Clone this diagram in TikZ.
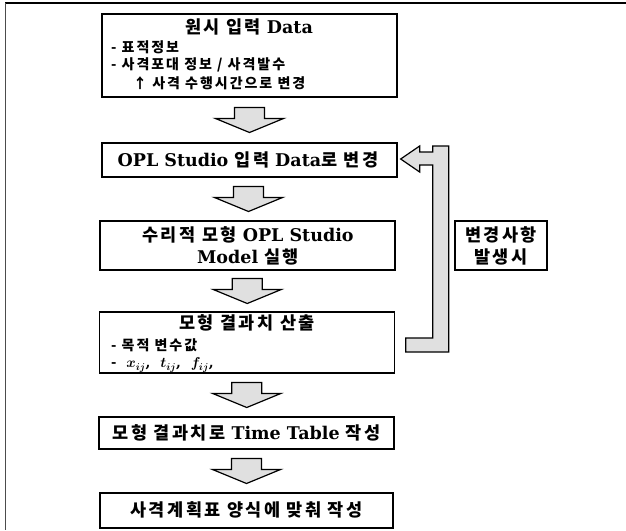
\documentclass[tikz,border=0pt]{standalone}
\usepackage{fontspec}
\setmainfont{DejaVu Serif}
\newfontfamily\kr{Noto Sans CJK KR}[LetterSpace=14]
\usetikzlibrary{calc}
\begin{document}
\begin{tikzpicture}[x=1pt,y=-1pt,
  box/.style={draw, line width=1.3pt, inner sep=0pt, minimum width=295pt},
  ttl/.style={font=\bfseries\fontsize{17.5}{20}\selectfont, inner sep=0pt, align=center},
  itm/.style={font=\bfseries\boldmath\fontsize{14}{16}\selectfont, anchor=west, inner sep=0pt},
  arrowblk/.style={draw, line width=1.2pt, fill=black!12, line join=miter},
  dnarrow/.pic={\draw[arrowblk] (-15,-12.5) -- (15,-12.5) -- (15,-1.5) -- (34,-1.5) -- (0,12.5) -- (-34,-1.5) -- (-15,-1.5) -- cycle;}
]
\useasboundingbox (0,0) rectangle (626,530);
% outer frame
\draw[line width=1.6pt] (5,3) -- (626,3);
\draw[line width=0.6pt, black!70] (5,3) -- (5,530);

% boxes
\node[box, minimum height=83pt] (b1) at (249.5,55.5) {};
\node[ttl] (t1) at (249,27) {{\kr 원시 입력} Data};
\node[itm] (i1) at (111,47) {{\kr - 표적정보}};
\node[itm] (i2) at (111,65) {{\kr - 사격포대 정보 / 사격발수}};
\node[itm] (i3) at (133,83) {{\kr ↑ 사격 수행시간으로 변경}};

\node[box, minimum height=34pt] (b2) at (249.5,160) {};
\node[ttl] (t2) at (248,160) {OPL Studio {\kr 입력} Data{\kr 로 변경}};

\node[box, minimum height=49pt] (b3) at (247.5,245.5) {};
\node[ttl] (t3a) at (248,235) {{\kr 수리적 모형} OPL Studio};
\node[ttl] (t3b) at (248,257) {Model {\kr 실행}};

\node[box, minimum height=61pt] (b4) at (247,342.5) {};
\node[ttl] (t4) at (247,323) {{\kr 모형 결과치 산출}};
\node[itm] (i4) at (111,345) {{\kr - 목적 변수값}};
\node[itm] (i5) at (111,365) {{\kr -} \ $x_{ij}$,\ \ $t_{ij}$,\ \ $f_{ij}$,};

\node[box, minimum height=32pt] (b5) at (246.5,433) {};
\node[ttl] (t5) at (246.5,433) {{\kr 모형 결과치로} Time Table {\kr 작성}};

\node[box, minimum height=35pt, minimum width=293pt] (b6) at (246.5,510.5) {};
\node[ttl] (t6) at (246.5,510) {{\kr 사격계획표 양식에 맞춰 작성}};

% label box
\node[box, minimum height=49pt, minimum width=92pt] (lb) at (501,245.5) {};
\node[ttl] (lt1) at (501,235) {{\kr 변경사항}};
\node[ttl] (lt2) at (501,257) {{\kr 발생시}};

% down block arrows
\pic at ($(b1.south)!0.5!(b2.north)$) {dnarrow};
\pic at ($(b2.south)!0.5!(b3.north)$) {dnarrow};
\pic at ($(b3.south)!0.5!(b4.north)$) {dnarrow};
\pic at ($(b4.south)!0.5!(b5.north)$) {dnarrow};
\pic at ($(b5.south)!0.5!(b6.north)$) {dnarrow};

% feedback block arrow
\coordinate (fbtip) at ($(b2.east)+(3,-1)$);
\draw[arrowblk] (fbtip) -- ++(19,-13) -- ++(0,6) -- ++(13,0) -- ++(0,-6)
  -- ++(16,0) -- ++(0,206) -- ++(-43,0) -- ++(0,-14) -- ++(27,0)
  -- ++(0,-173) -- ++(-13,0) -- ++(0,7) -- cycle;
\end{tikzpicture}
\end{document}
